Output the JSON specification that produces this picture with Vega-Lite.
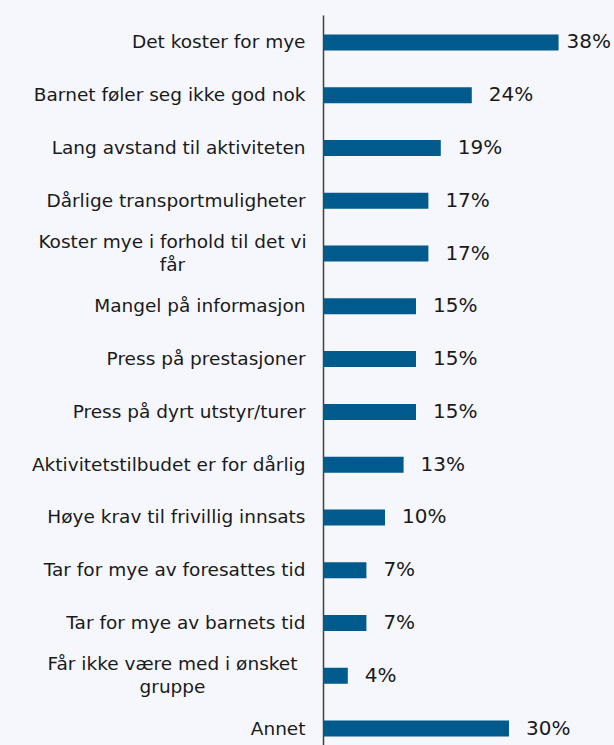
{
  "$schema": "https://vega.github.io/schema/vega-lite/v6.json",
  "autosize": {"type": "none"},
  "padding": {"left": 323, "top": 15, "right": 0, "bottom": 0},
  "width": 291,
  "height": 741,
  "background": "#F5F7FC",
  "config": {"view": {"stroke": null}, "font": "DejaVu Sans"},
  "data": {
    "values": [
      {"label": "Det koster for mye", "value": 0.38},
      {"label": "Barnet føler seg ikke god nok", "value": 0.24},
      {"label": "Lang avstand til aktiviteten", "value": 0.19},
      {"label": "Dårlige transportmuligheter", "value": 0.17},
      {"label": "Koster mye i forhold til det vi|får", "value": 0.17},
      {"label": "Mangel på informasjon", "value": 0.15},
      {"label": "Press på prestasjoner", "value": 0.15},
      {"label": "Press på dyrt utstyr/turer", "value": 0.15},
      {"label": "Aktivitetstilbudet er for dårlig", "value": 0.13},
      {"label": "Høye krav til frivillig innsats", "value": 0.10},
      {"label": "Tar for mye av foresattes tid", "value": 0.07},
      {"label": "Tar for mye av barnets tid", "value": 0.07},
      {"label": "Får ikke være med i ønsket|gruppe", "value": 0.04},
      {"label": "Annet", "value": 0.30}
    ]
  },
  "encoding": {
    "y": {
      "field": "label",
      "type": "nominal",
      "sort": null,
      "scale": {"paddingInner": 0.697, "paddingOuter": 0.369},
      "axis": {
        "title": null,
        "ticks": false,
        "domainColor": "#404040",
        "domainWidth": 1.5,
        "labelFont": "DejaVu Sans",
        "labelFontSize": 18.5,
        "labelColor": "#1a1a1a",
        "labelLimit": 400,
        "labelLineHeight": 23,
        "labelExpr": "split(datum.value, '|')",
        "labelAlign": {"condition": {"test": "indexof(datum.value, '|') >= 0", "value": "center"}, "value": "right"},
        "labelPadding": {"condition": {"test": "indexof(datum.value, '|') >= 0", "value": 151}, "value": 18},
        "labelOffset": {"condition": {"test": "indexof(datum.value, '|') >= 0", "value": -11.5}, "value": 0}
      }
    },
    "x": {
      "field": "value",
      "type": "quantitative",
      "scale": {"domain": [0, 0.4694], "nice": false, "zero": true},
      "axis": null
    }
  },
  "layer": [
    {"mark": {"type": "bar", "color": "#005A8C"}},
    {
      "transform": [{"filter": "datum.value < 0.35"}],
      "mark": {"type": "text", "align": "left", "baseline": "middle", "dx": 17, "fontSize": 20, "color": "#1a1a1a"},
      "encoding": {"text": {"field": "value", "type": "quantitative", "format": ".0%"}}
    },
    {
      "transform": [{"filter": "datum.value >= 0.35"}],
      "mark": {"type": "text", "align": "left", "baseline": "middle", "dx": 8, "fontSize": 20, "color": "#1a1a1a"},
      "encoding": {"text": {"field": "value", "type": "quantitative", "format": ".0%"}}
    }
  ]
}
